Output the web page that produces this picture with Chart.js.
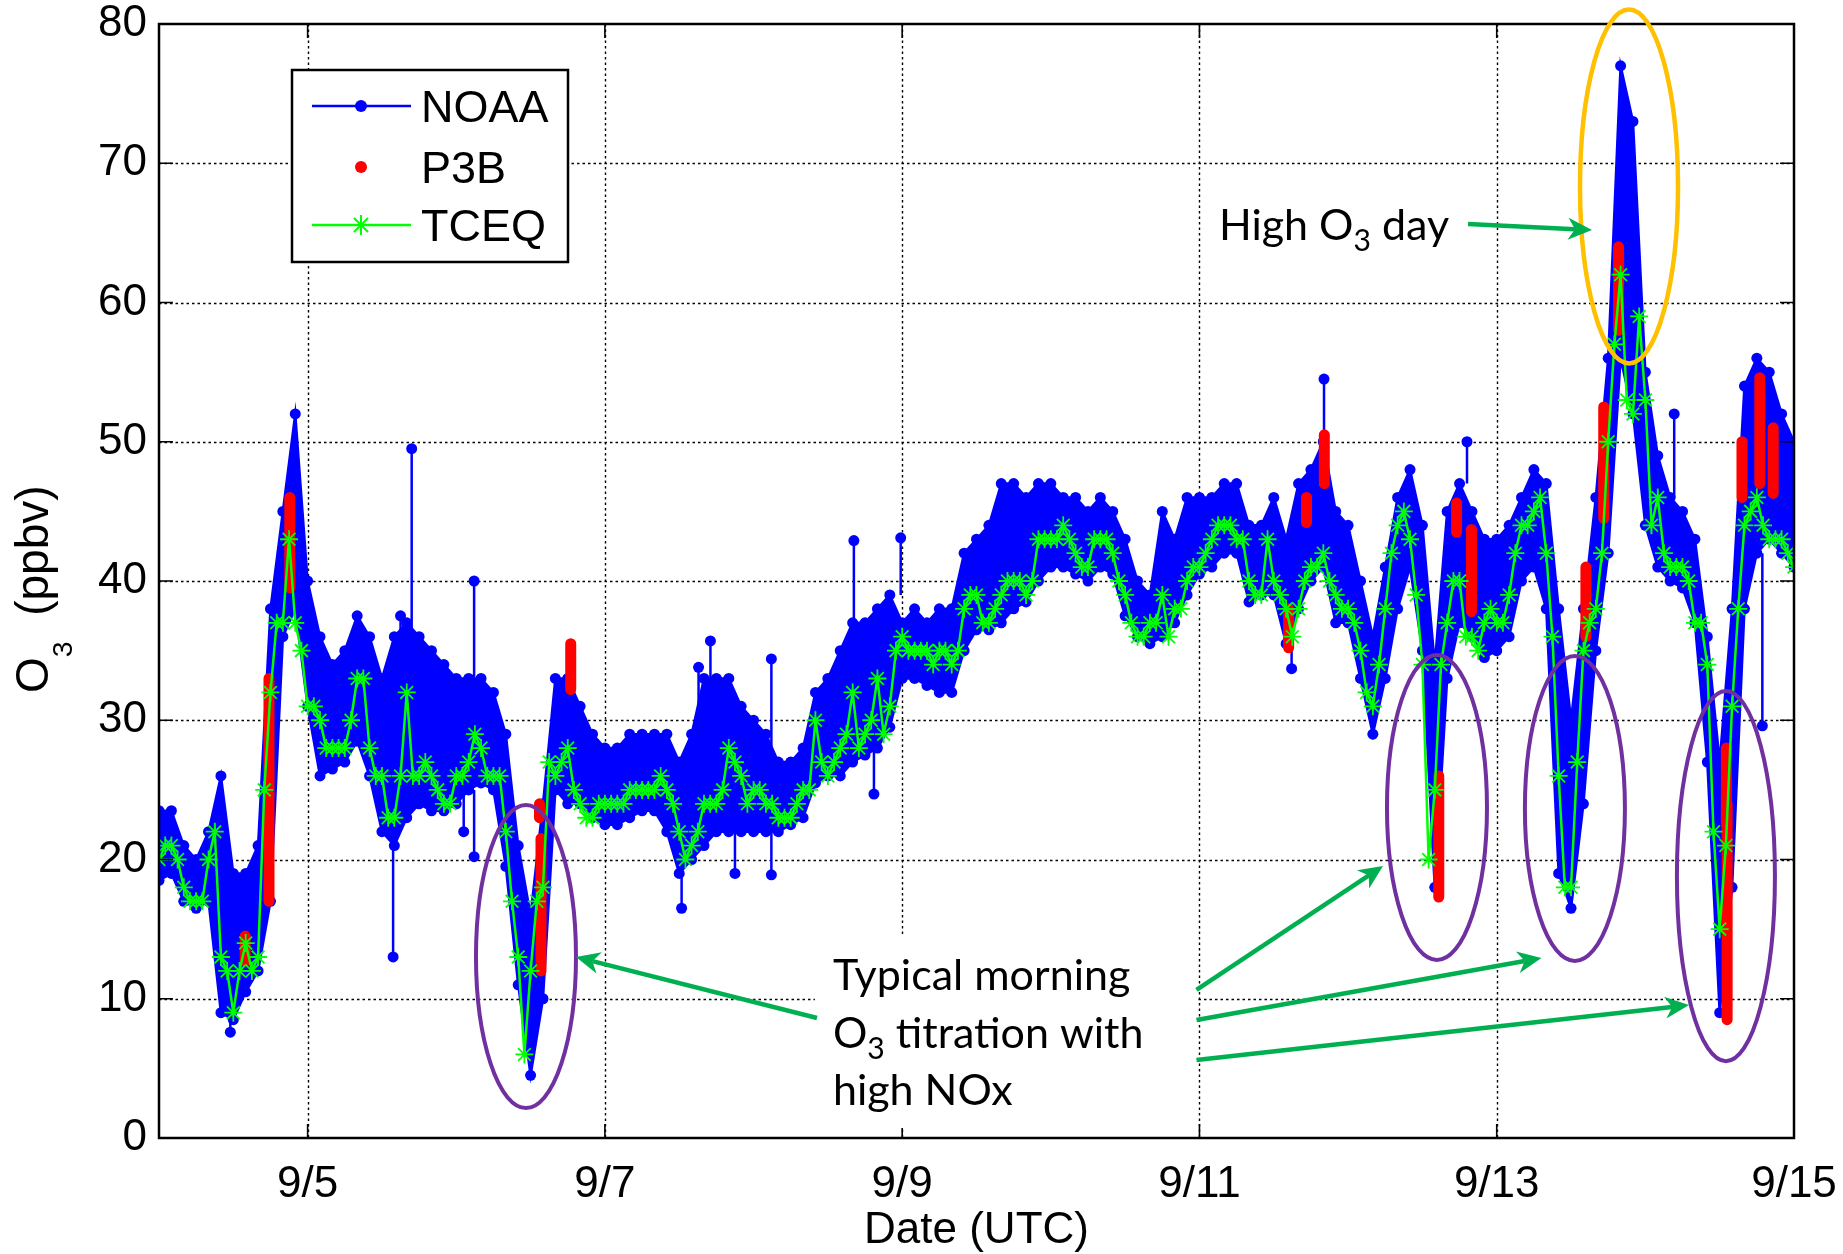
<!DOCTYPE html>
<html>
<head>
<meta charset="utf-8">
<title>O3 (ppbv), 9/4 - 9/15</title>
<script src="https://cdn.jsdelivr.net/npm/chart.js@4.4.1/dist/chart.umd.min.js"></script>
<style>
  html, body { margin: 0; padding: 0; background: #fff; }
</style>
</head>
<body>
<canvas id="o3chart" width="1843" height="1254"></canvas>
<script>
// x is the day of September (UTC) as a decimal number
const xTickDays = [5, 7, 9, 11, 13, 15];
const yTickValues = [0, 10, 20, 30, 40, 50, 60, 70, 80];

// TCEQ hourly O3 (ppbv), 9/4 00:00 .. 9/15 00:00
const tceqStart = 4;
const tceqStep = 1 / 24;
const tceqO3 = [
  20,21,21,20,18,17,17,17,20,22,13,12,9,12,14,12,13,25,32,37,37,43,37,35,
  31,31,30,28,28,28,28,30,33,33,28,26,26,23,23,26,32,26,26,27,26,25,24,24,
  26,26,27,29,28,26,26,26,22,17,13,6,12,17,18,27,26,27,28,25,24,23,23,24,
  24,24,24,24,25,25,25,25,25,26,25,24,22,20,21,22,24,24,24,25,28,27,26,24,
  25,25,24,24,23,23,23,24,25,25,30,27,26,27,28,29,32,28,29,30,33,29,31,35,
  36,35,35,35,35,34,35,35,34,35,38,39,39,37,37,38,39,40,40,40,39,40,43,43,
  43,43,44,43,42,41,41,43,43,43,42,40,39,37,36,36,37,37,39,36,38,38,40,41,
  41,42,43,44,44,44,43,43,40,39,39,43,40,39,38,36,38,40,41,41,42,40,39,38,
  38,37,35,32,31,34,38,42,44,45,43,39,34,20,25,34,37,40,40,36,36,35,37,38,
  37,37,39,42,44,44,45,46,42,36,26,18,18,27,35,37,38,42,50,57,62,53,52,59,
  53,44,46,42,41,41,41,40,37,37,34,22,15,21,31,38,44,45,46,44,43,43,43,42,
  41
];

// NOAA surface O3, upper and lower edge of the 1-min scatter in 2-hour steps
const noaaStart = 4;
const noaaStep = 1 / 12;
const noaaHigh = [
  23.5,23.5,21,20,22,26,19,19,21,38,45,52,
  40,36,34,35,37.5,36,33,36,37,36,35,34,
  33,33,33,32,29,21,16,24,33,33,31,29,
  28,28,29,29,29,29,27,29,33,33,33,31,
  30,29,27,27,28,32,33,35,37,37,38,39,
  37,38,37,38,38,42,43,44,47,47,46,47,
  47,46,46,45,46,45,43,40,39,45,43,46,
  46,46,47,47,44,44,46,43,47,48,50,45,
  44,40,36,41,46,48,44,34,45,47,45,43,
  43,44,46,48,47,38,30,38,46,56,77,73,
  55,49,46,45,43,36,27,38,54,56,55,52,50
];
const noaaLow = [
  18.5,19,17,16.5,17,9,8.5,10.5,12,17,36,38,
  31,26,26.5,27,28.5,26,22,21,23,24,23.5,23.5,
  24,25,25.5,25,19.5,11,4.5,10,25,24,24,23,
  22.5,22.5,23,23.5,23.5,22,19,20,21,22,22,22,
  22,22,22,22.5,23,25.5,26,26,27,27.5,28,29.5,
  33,33,32.5,32,32,35,36.5,36.5,37,38,38.5,40,
  41,41,40.5,40,41,40.5,37.5,36,35.5,36,37,39,
  40.5,41,42,42,38.5,39,39,35.5,38,40,41,37,
  37,33,29,33,38,41,35,18,33,37,36,34.5,
  35,36,40,41,38,19,16.5,24,35,42,56,52,
  44,41,40,39.5,37,27,9,18,38,42,43,42,41
];

// single NOAA readings well outside the band
const spikeDay  = [4.48, 5.575, 5.625, 5.70, 6.05, 6.12, 6.12, 7.516, 7.63, 7.71, 7.875, 8.12, 8.12, 8.675, 8.81, 8.99, 11.62, 11.838, 12.80, 14.194, 14.787];
const spikeFrom = [10,   22,    30,    36,   25,   32,   25,   21,    30,   31,   23,    27,   22,   37,    28,   39,   35.5,  50,     47,    46,     42];
const spikeTo   = [7.6,  13,    37.5,  49.5, 22,   40,   20.2, 16.5,  33.8, 35.7, 19,    34.4, 18.9, 42.9,  24.7, 43.1, 33.7,  54.5,   50,    52,     29.6];

// P3B aircraft profiles near the site: time and O3 range
const p3bDay  = [4.58, 4.74, 4.88, 6.57, 6.56, 6.77, 11.60, 11.72, 11.84, 12.61, 12.73, 12.83, 13.60, 13.72, 13.82, 14.545, 14.55, 14.65, 14.77, 14.86];
const p3bLow  = [12.7, 17,   39.5, 12,   23,   32.2, 35.2,  44.2,  47,    17.3,  43.5,  37.8,  36,    44.5,  58,    22.5,   8.5,   46,    47,    46.3];
const p3bHigh = [14.5, 33,   46,   21.5, 24,   35.5, 38,    46,    50.5,  26,    45.6,  43.7,  41,    52.5,  64,    28,     24,    50,    54.6,  51];

// annotations, in axis units (day, ppbv)
const purpleRings = [
  [6.469, 13.03, 0.3364, 10.88],
  [12.598, 23.73, 0.3364, 10.95],
  [13.526, 23.66, 0.3364, 10.95],
  [14.542, 18.81, 0.3297, 13.29]
];
const orangeRing = [13.890, 68.33, 0.3297, 12.71];
const greenArrows = [
  [8.427, 8.62, 6.805, 13.0],
  [10.980, 10.63, 12.235, 19.53],
  [10.980, 8.47, 13.301, 12.93],
  [10.980, 5.60, 14.294, 9.55],
  [12.807, 65.64, 13.641, 65.21]
];

const AXIS_FONT = "'Liberation Sans', Arial, Helvetica, sans-serif";
const NOTE_FONT = "Lato, 'Open Sans', sans-serif";
const BLUE = '#0000ff', RED = '#ff0000', GREEN = '#00ff00';

const tceqPts = tceqO3.map((v, i) => ({ x: tceqStart + i * tceqStep, y: v }));
const noaaHighPts = noaaHigh.map((v, i) => ({ x: noaaStart + i * noaaStep, y: v }));
const noaaLowPts = noaaLow.map((v, i) => ({ x: noaaStart + i * noaaStep, y: v }));

const spikePts = [];
spikeDay.forEach((d, i) => {
  spikePts.push({ x: d, y: spikeFrom[i] }, { x: d, y: spikeTo[i] }, { x: d, y: null });
});
const p3bPts = [];
p3bDay.forEach((d, i) => {
  p3bPts.push({ x: d, y: p3bLow[i] }, { x: d, y: p3bHigh[i] }, { x: d, y: null });
});

// asterisk like MATLAB '*'
function drawStar(ctx, x, y, r) {
  const d = r * Math.SQRT1_2;
  ctx.beginPath();
  ctx.moveTo(x - r, y); ctx.lineTo(x + r, y);
  ctx.moveTo(x, y - r); ctx.lineTo(x, y + r);
  ctx.moveTo(x - d, y - d); ctx.lineTo(x + d, y + d);
  ctx.moveTo(x - d, y + d); ctx.lineTo(x + d, y - d);
  ctx.stroke();
}

// text made of pieces, some of them subscripts
function drawRich(ctx, parts, x, y, family, size) {
  let cx = x;
  parts.forEach(p => {
    const s = p.sub ? size * p.sub : size;
    ctx.font = s + 'px ' + family;
    ctx.fillText(p.t, cx, y + (p.dy || 0));
    cx += ctx.measureText(p.t).width;
  });
}

function drawArrow(ctx, x0, y0, x1, y1) {
  const ang = Math.atan2(y1 - y0, x1 - x0);
  const len = 24, half = 11, notch = 7;
  ctx.lineWidth = 4.5;
  ctx.beginPath();
  ctx.moveTo(x0, y0);
  ctx.lineTo(x1 - Math.cos(ang) * (len - notch), y1 - Math.sin(ang) * (len - notch));
  ctx.stroke();
  ctx.save();
  ctx.translate(x1, y1);
  ctx.rotate(ang);
  ctx.beginPath();
  ctx.moveTo(0, 0);
  ctx.lineTo(-len, -half);
  ctx.lineTo(-len + notch, 0);
  ctx.lineTo(-len, half);
  ctx.closePath();
  ctx.fill();
  ctx.restore();
}

const frame = {
  id: 'frame',
  beforeDatasetsDraw(chart) {
    const { ctx, chartArea: a, scales: { x, y } } = chart;
    ctx.save();
    ctx.strokeStyle = '#000';
    ctx.lineWidth = 1.4;
    ctx.setLineDash([2.5, 3]);
    xTickDays.forEach(d => {
      const px = Math.round(x.getPixelForValue(d)) + 0.5;
      if (px > a.right - 2) return;
      ctx.beginPath(); ctx.moveTo(px, a.top); ctx.lineTo(px, a.bottom); ctx.stroke();
    });
    yTickValues.forEach(v => {
      const py = Math.round(y.getPixelForValue(v)) + 0.5;
      if (py < a.top + 2 || py > a.bottom - 2) return;
      ctx.beginPath(); ctx.moveTo(a.left, py); ctx.lineTo(a.right, py); ctx.stroke();
    });
    ctx.restore();
  },
  afterDatasetsDraw(chart) {
    const { ctx, chartArea: a, scales: { x, y } } = chart;
    const tick = 14;
    ctx.save();
    ctx.strokeStyle = '#000';
    ctx.lineWidth = 1.6;
    xTickDays.forEach(d => {
      const px = x.getPixelForValue(d);
      ctx.beginPath();
      ctx.moveTo(px, a.bottom); ctx.lineTo(px, a.bottom - tick);
      ctx.moveTo(px, a.top); ctx.lineTo(px, a.top + tick);
      ctx.stroke();
    });
    yTickValues.forEach(v => {
      const py = y.getPixelForValue(v);
      ctx.beginPath();
      ctx.moveTo(a.left, py); ctx.lineTo(a.left + tick, py);
      ctx.moveTo(a.right, py); ctx.lineTo(a.right - tick, py);
      ctx.stroke();
    });
    ctx.lineWidth = 2.5;
    ctx.strokeRect(a.left, a.top, a.right - a.left, a.bottom - a.top);
    ctx.restore();
  }
};

const notes = {
  id: 'notes',
  afterDraw(chart) {
    const { ctx, chartArea: a, scales: { x, y } } = chart;
    const X = v => x.getPixelForValue(v);
    const Y = v => y.getPixelForValue(v);
    ctx.save();

    // white panel under the titration note
    ctx.fillStyle = '#fff';
    ctx.fillRect(X(8.413), Y(14.58), X(10.977) - X(8.413), Y(0.72) - Y(14.58));

    ctx.fillStyle = '#000';
    ctx.textAlign = 'left';
    ctx.textBaseline = 'alphabetic';
    const size = 43;
    const sub3 = { t: '3', sub: 0.7, dy: 11 };
    drawRich(ctx, [{ t: 'Typical morning' }], X(8.534), Y(10.63), NOTE_FONT, size);
    drawRich(ctx, [{ t: 'O' }, sub3, { t: ' titration with' }], X(8.534), Y(6.46), NOTE_FONT, size);
    drawRich(ctx, [{ t: 'high NOx' }], X(8.534), Y(2.37), NOTE_FONT, size);
    drawRich(ctx, [{ t: 'High O' }, sub3, { t: ' day' }], X(11.131), Y(64.49), NOTE_FONT, size);

    // rings around the events
    ctx.lineWidth = 4;
    ctx.strokeStyle = '#7030a0';
    purpleRings.forEach(([cx, cy, rx, ry]) => {
      ctx.beginPath();
      ctx.ellipse(X(cx), Y(cy), X(cx + rx) - X(cx), Y(cy - ry) - Y(cy), 0, 0, Math.PI * 2);
      ctx.stroke();
    });
    ctx.strokeStyle = '#ffc000';
    ctx.lineWidth = 4.5;
    {
      const [cx, cy, rx, ry] = orangeRing;
      ctx.beginPath();
      ctx.ellipse(X(cx), Y(cy), X(cx + rx) - X(cx), Y(cy - ry) - Y(cy), 0, 0, Math.PI * 2);
      ctx.stroke();
    }

    ctx.strokeStyle = '#00b050';
    ctx.fillStyle = '#00b050';
    greenArrows.forEach(([x0, y0, x1, y1]) => drawArrow(ctx, X(x0), Y(y0), X(x1), Y(y1)));

    // legend box
    const lx = a.left + 133, ly = a.top + 46, lw = 276, lh = 192;
    ctx.fillStyle = '#fff';
    ctx.fillRect(lx, ly, lw, lh);
    ctx.strokeStyle = '#000';
    ctx.lineWidth = 2.5;
    ctx.strokeRect(lx, ly, lw, lh);
    const rows = [ly + 36, ly + 97, ly + 155];
    const s0 = lx + 20, s1 = lx + 119, sm = lx + 69;
    ctx.lineWidth = 2.5;
    ctx.strokeStyle = BLUE;
    ctx.beginPath(); ctx.moveTo(s0, rows[0]); ctx.lineTo(s1, rows[0]); ctx.stroke();
    ctx.fillStyle = BLUE;
    ctx.beginPath(); ctx.arc(sm, rows[0], 6, 0, Math.PI * 2); ctx.fill();
    ctx.fillStyle = RED;
    ctx.beginPath(); ctx.arc(sm, rows[1], 6, 0, Math.PI * 2); ctx.fill();
    ctx.strokeStyle = GREEN;
    ctx.beginPath(); ctx.moveTo(s0, rows[2]); ctx.lineTo(s1, rows[2]); ctx.stroke();
    ctx.lineWidth = 2;
    drawStar(ctx, sm, rows[2], 10);
    ctx.fillStyle = '#000';
    ctx.font = '45px ' + AXIS_FONT;
    ['NOAA', 'P3B', 'TCEQ'].forEach((t, i) => ctx.fillText(t, lx + 129, rows[i] + 16));

    // axis titles
    ctx.font = '44px ' + AXIS_FONT;
    ctx.textAlign = 'center';
    ctx.fillText('Date (UTC)', (a.left + a.right) / 2, 1243);
    ctx.textAlign = 'left';
    ctx.translate(48, 693);
    ctx.rotate(-Math.PI / 2);
    drawRich(ctx, [{ t: 'O' }, { t: '3', sub: 0.62, dy: 24 }, { t: '  (ppbv)' }], 0, 0, AXIS_FONT, 46);
    ctx.restore();
  }
};

new Chart(document.getElementById('o3chart'), {
  type: 'line',
  data: {
    datasets: [
      {
        label: 'TCEQ', data: tceqPts, order: 0,
        borderColor: GREEN, borderWidth: 2.5,
        pointStyle: 'star', pointRadius: 9, pointBorderWidth: 1.8,
        pointBorderColor: GREEN, pointBackgroundColor: GREEN
      },
      {
        label: 'P3B', data: p3bPts, order: 1,
        borderColor: RED, borderWidth: 11, borderCapStyle: 'round',
        pointRadius: 0, spanGaps: false
      },
      {
        label: 'NOAA spikes', data: spikePts, order: 2,
        borderColor: BLUE, borderWidth: 2.5, spanGaps: false,
        pointRadius: c => (c.dataIndex % 3 === 1 ? 5.5 : 0),
        pointBackgroundColor: BLUE, pointBorderWidth: 0
      },
      {
        label: 'NOAA', data: noaaHighPts, order: 3,
        borderColor: BLUE, borderWidth: 2.5, backgroundColor: BLUE, fill: '+1',
        pointRadius: 5.5, pointBackgroundColor: BLUE, pointBorderWidth: 0
      },
      {
        label: 'NOAA low', data: noaaLowPts, order: 4,
        borderColor: BLUE, borderWidth: 2.5, fill: false,
        pointRadius: 5.5, pointBackgroundColor: BLUE, pointBorderWidth: 0
      }
    ]
  },
  options: {
    responsive: false,
    animation: false,
    devicePixelRatio: 1,
    events: [],
    layout: { padding: { top: 24, right: 49, left: 0, bottom: 0 } },
    plugins: { legend: { display: false }, tooltip: { enabled: false } },
    scales: {
      x: {
        type: 'linear', min: 4, max: 15,
        grid: { display: false, drawTicks: false },
        border: { display: false },
        afterBuildTicks: s => { s.ticks = xTickDays.map(v => ({ value: v })); },
        afterFit: s => { s.height = 116; s.paddingLeft = 0; s.paddingRight = 0; },
        ticks: {
          callback: v => '9/' + v,
          font: { family: AXIS_FONT, size: 44 }, color: '#000',
          padding: 20, maxRotation: 0, autoSkip: false
        }
      },
      y: {
        min: 0, max: 80,
        grid: { display: false, drawTicks: false },
        border: { display: false },
        afterBuildTicks: s => { s.ticks = yTickValues.map(v => ({ value: v })); },
        afterFit: s => { s.width = 159; s.paddingTop = 0; s.paddingBottom = 0; },
        ticks: { font: { family: AXIS_FONT, size: 44 }, color: '#000', padding: 12 }
      }
    }
  },
  plugins: [frame, notes]
});
</script>
</body>
</html>
